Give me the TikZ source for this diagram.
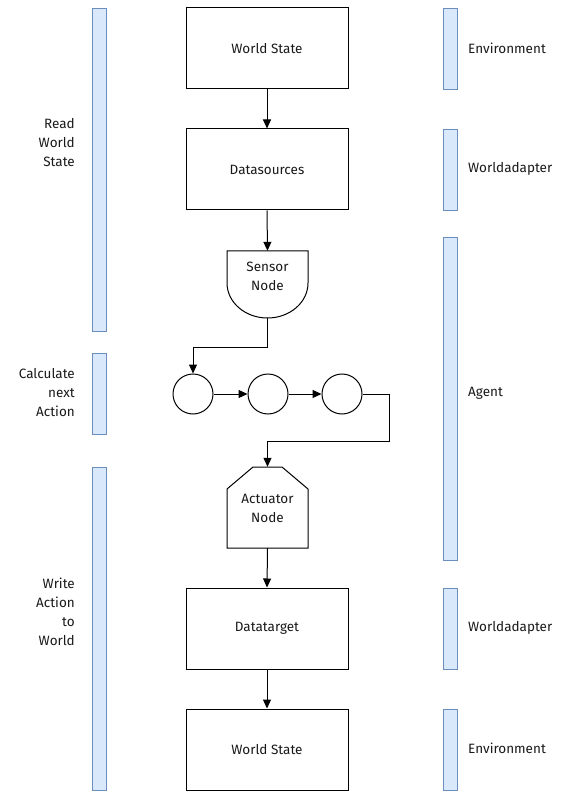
\documentclass[tikz,border=0pt]{standalone}
\usepackage{fontspec}
\setmainfont{Fira Sans}
\usetikzlibrary{arrows.meta}
\definecolor{barfill}{HTML}{DAE8FC}
\definecolor{barline}{HTML}{6C8EBF}
\begin{document}
\begin{tikzpicture}[x=1pt,y=-1pt,
  every node/.style={font=\fontsize{13.5}{19}\selectfont, align=center, inner sep=0pt, text=black!90},
  box/.style={draw, line width=1pt, minimum width=162pt, minimum height=81pt},
  bar/.style={draw=barline, fill=barfill, line width=0.9pt},
  arr/.style={line width=1pt, -{Triangle[length=9pt,width=8pt]}},
  circ/.style={draw, circle, line width=1pt, minimum size=40pt},
  lbl/.style={align=right, anchor=east},
  rlbl/.style={anchor=west}]
\useasboundingbox (0,0) rectangle (563,791);
% bars left
\draw[bar] (92,8) rectangle (106,331);
\draw[bar] (92,353) rectangle (106,434);
\draw[bar] (92,467) rectangle (106,790);
% bars right
\draw[bar] (443,8) rectangle (457,89);
\draw[bar] (443,129) rectangle (457,210);
\draw[bar] (443,237) rectangle (457,560);
\draw[bar] (443,588) rectangle (457,669);
\draw[bar] (443,709) rectangle (457,790);
% left labels
\node[lbl] (l1) at (75,143) {Read\\World\\State};
\node[lbl] (l2) at (75,393) {Calculate\\next\\Action};
\node[lbl] (l3) at (75,612) {Write\\Action\\to\\World};
% right labels
\node[rlbl] (r1) at (468,48) {Environment};
\node[rlbl] (r2) at (468,169) {Worldadapter};
\node[rlbl] (r3) at (468,393) {Agent};
\node[rlbl] (r4) at (468,628) {Worldadapter};
\node[rlbl] (r5) at (468,748) {Environment};
% main boxes
\node[box] (ws1) at (267,48.5) {World State};
\node[box] (ds) at (267,169.5) {Datasources};
\node[box] (dt) at (267,628.5) {Datatarget};
\node[box] (ws2) at (267,749.5) {World State};
% sensor node
\draw[line width=1pt] (227,251) -- (308,251) -- (308,283) arc[start angle=0, end angle=180, x radius=40.5, y radius=35] -- cycle;
\node[minimum width=81pt, minimum height=67pt] (sn) at (267.5,284.5) {};
\node at (267.5,276) {Sensor\\Node};
% circles
\node[circ] (c1) at (193,394) {};
\node[circ] (c2) at (268,394) {};
\node[circ] (c3) at (342,394) {};
% actuator node
\draw[line width=1pt] (253,467) -- (282,467) -- (308,489) -- (308,548) -- (227,548) -- (227,489) -- cycle;
\node[minimum width=81pt, minimum height=81pt] (an) at (267.5,507.5) {};
\node at (267.5,508) {Actuator\\Node};
% connectors
\draw[arr] (ws1.south) -- (ds.north);
\draw[arr] (ds.south) -- (sn.north);
\draw[arr] (sn.south) -- ++(0,29) -| (c1.north);
\draw[arr] (c1.east) -- (c2.west);
\draw[arr] (c2.east) -- (c3.west);
\draw[arr] (c3.east) -- (389,394) -- (389,441) -| (an.north);
\draw[arr] (an.south) -- (dt.north);
\draw[arr] (dt.south) -- (ws2.north);
\end{tikzpicture}
\end{document}
